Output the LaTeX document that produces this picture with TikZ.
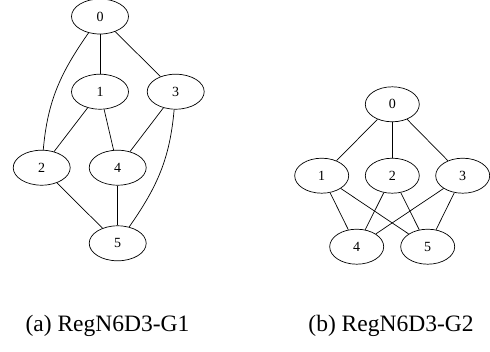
\documentclass[tikz,border=0pt]{standalone}
\usepackage{fontspec}
\setmainfont{Liberation Serif}
\usetikzlibrary{shapes.geometric}

\tikzset{
  vtx/.style={draw, ellipse, line width=0.7pt, minimum width=57pt, minimum height=35pt,
    inner sep=0pt, font=\fontsize{14}{16}\selectfont},
  edg/.style={line width=0.7pt},
  capt/.style={font=\fontsize{23.5}{28}\selectfont}
}

\begin{document}
\begin{tikzpicture}[x=1pt, y=-1pt]
        \useasboundingbox (0,0) rectangle (490,351);
        % (a)
        \node[vtx] (l0) at (100,16.5) {0};
        \node[vtx] (l1) at (100,91.7) {1};
        \node[vtx] (l3) at (175.7,91.7) {3};
        \node[vtx] (l2) at (41.7,167.7) {2};
        \node[vtx] (l4) at (117.7,167.7) {4};
        \node[vtx] (l5) at (117.7,243.3) {5};
        \draw[edg] (l0) -- (l1);
        \draw[edg] (l0) -- (l3);
        \draw[edg] (l0) to[out=235, in=85] (l2);
        \draw[edg] (l1) -- (l2);
        \draw[edg] (l1) -- (l4);
        \draw[edg] (l3) -- (l4);
        \draw[edg] (l3) to[out=265, in=55] (l5);
        \draw[edg] (l2) -- (l5);
        \draw[edg] (l4) -- (l5);
        % (b)
        \node[vtx, minimum width=54pt] (r0) at (392.3,104.3) {0};
        \node[vtx, minimum width=54pt] (r1) at (321.7,175.7) {1};
        \node[vtx, minimum width=54pt] (r2) at (392.3,175.7) {2};
        \node[vtx, minimum width=54pt] (r3) at (462.7,175.7) {3};
        \node[vtx, minimum width=54pt] (r4) at (356.7,246.7) {4};
        \node[vtx, minimum width=54pt] (r5) at (427.7,246.7) {5};
        \draw[edg] (r0) -- (r1);
        \draw[edg] (r0) -- (r2);
        \draw[edg] (r0) -- (r3);
        \draw[edg] (r1) -- (r4);
        \draw[edg] (r1) -- (r5);
        \draw[edg] (r2) -- (r4);
        \draw[edg] (r2) -- (r5);
        \draw[edg] (r3) -- (r4);
        \draw[edg] (r3) -- (r5);
        \node[capt] (capa) at (107.5,326) {(a) RegN6D3-G1};
        \node[capt] (capb) at (391,326) {(b) RegN6D3-G2};
\end{tikzpicture}
\end{document}
